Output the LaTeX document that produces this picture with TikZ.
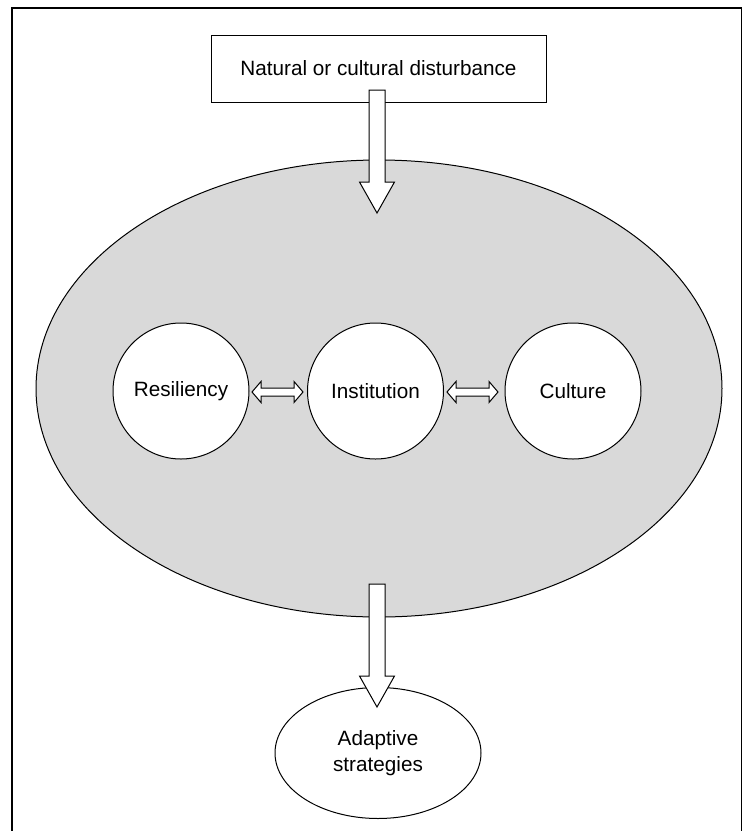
\documentclass[tikz,border=0pt]{standalone}
\usepackage{fontspec}
\setmainfont{Liberation Sans}
\usetikzlibrary{shapes.geometric}
\definecolor{shade}{HTML}{D9D9D9}
\newcommand\fatdown[3]{%
  \draw[arrowbody] (#1-8,#2) -- (#1+8,#2) -- (#1+8,#3-31) -- (#1+17.5,#3-31)
    -- (#1,#3) -- (#1-17.5,#3-31) -- (#1-8,#3-31) -- cycle;}
\newcommand\fatboth[3]{%
  \draw[arrowbody] (#1,#3) -- (#1+9,#3-10.5) -- (#1+9,#3-4) -- (#2-9,#3-4)
    -- (#2-9,#3-10.5) -- (#2,#3) -- (#2-9,#3+10.5) -- (#2-9,#3+4)
    -- (#1+9,#3+4) -- (#1+9,#3+10.5) -- cycle;}
\begin{document}
\begin{tikzpicture}[x=1pt,y=-1pt,line width=1pt,
  font=\fontsize{20.7}{26}\selectfont,
  arrowbody/.style={draw,fill=white,line width=1pt,line join=miter},
  bigoval/.style={ellipse,draw,fill=shade,inner sep=0pt},
  factor/.style={circle,draw,fill=white,inner sep=0pt,minimum size=136pt},
  topbox/.style={rectangle,draw,fill=white,inner sep=0pt},
  outcome/.style={ellipse,draw,fill=white,inner sep=0pt,align=center}]
\useasboundingbox (0,0) rectangle (743,831);
\draw[line width=1.6pt] (12,831) -- (12,8) -- (741.5,8) -- (741.5,831);
\node[topbox,minimum width=335pt,minimum height=67pt] (dist) at (378.5,68.5) {Natural or cultural disturbance};
\node[bigoval,minimum width=686pt,minimum height=457pt] (sys) at (379,388.5) {};
\node[factor] (res) at (181,391) {Resiliency};
\node[factor] (inst) at (375.5,391) {Institution};
\node[factor] (cult) at (573,391) {Culture};
\node[outcome,minimum width=206pt,minimum height=131pt] (adapt) at (378,753) {Adaptive\\strategies};
\fatdown{377}{90}{213}
\fatdown{377}{584}{707}
\fatboth{252}{303}{392}
\fatboth{447}{498}{392}
\end{tikzpicture}
\end{document}
